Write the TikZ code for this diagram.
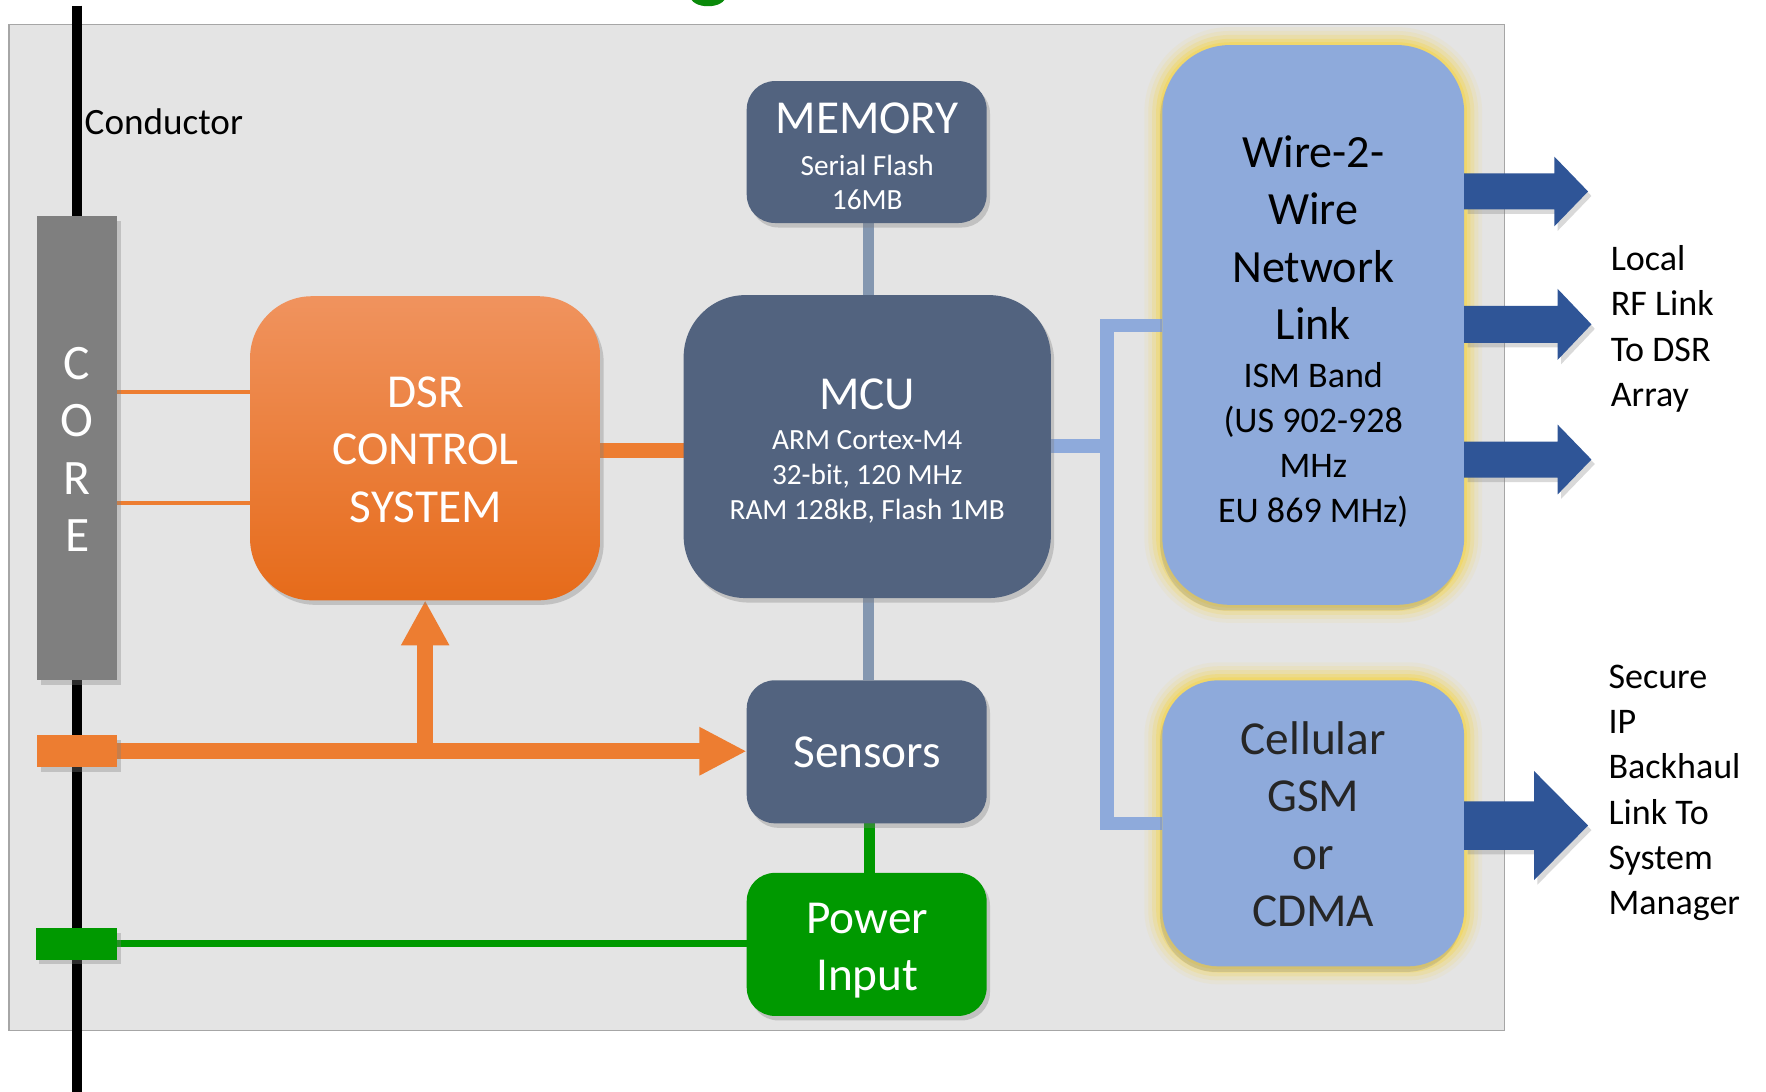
\documentclass[tikz,border=0pt]{standalone}
\usepackage{fontspec}
\setmainfont{Carlito}
\usetikzlibrary{shadows,arrows.meta,calc}

\definecolor{panelfill}{HTML}{E4E4E4}
\definecolor{panelline}{HTML}{A6A6A6}
\definecolor{coregray}{HTML}{7F7F7F}
\definecolor{dsrorange}{HTML}{ED7D31}
\definecolor{dsrtop}{HTML}{F0935E}
\definecolor{dsrbot}{HTML}{E66B1A}
\definecolor{slate}{HTML}{52637F}
\definecolor{linkgray}{HTML}{8497B0}
\definecolor{pwrgreen}{HTML}{009900}
\definecolor{netblue}{HTML}{8EAADB}
\definecolor{arrowblue}{HTML}{2F5597}
\definecolor{glowyellow}{HTML}{F2D660}
\definecolor{titlegreen}{HTML}{0A8A0A}
\definecolor{celltext}{HTML}{262626}

\newcommand\fsz[2]{\fontsize{#1}{#2}\selectfont}

% block arrow: start, tip, shaft half height, head half height, head length
\newcommand\blockarrow[5]{%
  \fill[arrowblue, drop shadow={shadow xshift=3pt, shadow yshift=-4pt, opacity=0.3}]
    let \p1=(#1), \p2=(#2) in
    (\x1,\y1+#3) -- (\x2-#5,\y1+#3) -- (\x2-#5,\y1+#4) -- (\x2,\y2)
    -- (\x2-#5,\y1-#4) -- (\x2-#5,\y1-#3) -- (\x1,\y1-#3) -- cycle;}

\pgfdeclarelayer{bg}
\pgfdeclarelayer{conn}
\pgfsetlayers{bg,conn,main}

\tikzset{
  box/.style={rectangle, inner sep=0pt, outer sep=0pt, draw=none},
  softshadow/.style={drop shadow={shadow xshift=3pt, shadow yshift=-4pt, opacity=0.35}},
  slatebox/.style={box, fill=slate, softshadow},
  netbox/.style={box, fill=netblue,
    drop shadow={shadow xshift=-2pt, shadow yshift=-5pt, opacity=0.25}},
  whitetext/.style={align=center, inner sep=0pt, text=white},
  bigfont/.style={font=\fsz{42}{51}},
  smallfont/.style={font=\fsz{26}{31}},
  sidefont/.style={font=\fsz{32}{40}},
  orangebus/.style={dsrorange, line width=14pt},
  netbus/.style={netblue, line width=12pt},
  linkbus/.style={linkgray, line width=10pt},
}

\begin{document}
\begin{tikzpicture}[x=1pt, y=-1pt]
\useasboundingbox (0,0) rectangle (1568,969);

% housing panel and the conductor passing through it
\begin{pgfonlayer}{bg}
  \node[box, fill=panelfill, draw=panelline, line width=1.2pt,
        minimum width=1328pt, minimum height=893pt] (panel) at (672,468.5) {};
  \coordinate (condtop) at (68,5);
  \coordinate (condbot) at (68,975);
  \draw[black, line width=9pt] (condtop) -- (condbot);
\end{pgfonlayer}

% fragment of green lettering above the panel
\fill[titlegreen] (613,-4) .. controls (613,9) and (645,9) .. (645,-4) -- cycle;

\node[anchor=west, inner sep=0pt, font=\fsz{33}{40}] (condlbl) at (75,108) {Conductor};

% core and taps on the conductor
\node[box, fill=coregray, softshadow, minimum width=71pt, minimum height=412pt] (core) at (68.5,398) {};
\node[whitetext, font=\fsz{44}{51}] (coretxt) at (68.5,399) {C\\O\\R\\E};
\node[box, fill=dsrorange, softshadow, minimum width=71pt, minimum height=28pt] (otap) at (68.5,667) {};
\node[box, fill=pwrgreen, softshadow, minimum width=72pt, minimum height=28pt] (gtap) at (68,838) {};

% control, processing and sensing blocks
\node[box, top color=dsrtop, bottom color=dsrbot, rounded corners=55pt, softshadow,
      minimum width=311pt, minimum height=270pt] (dsr) at (377.5,398) {};
\node[whitetext, bigfont] (dsrt) at (378,399) {DSR\\CONTROL\\SYSTEM};

\node[slatebox, rounded corners=55pt, minimum width=326pt, minimum height=269pt] (mcu) at (770,396.5) {};
\node[whitetext, bigfont] (mcut1) at (770,350) {MCU};
\node[whitetext, smallfont] (mcut2) at (770,423.5) {ARM Cortex-M4\\32-bit, 120 MHz\\RAM 128kB, Flash 1MB};

\node[slatebox, rounded corners=25pt, minimum width=213pt, minimum height=126pt] (mem) at (769.5,135) {};
\node[whitetext, bigfont] (memt1) at (770,105) {MEMORY};
\node[whitetext, font=\fsz{26}{30}] (memt2) at (770,162) {Serial Flash\\16MB};

\node[slatebox, rounded corners=25pt, minimum width=213pt, minimum height=127pt] (sens) at (769.5,667.5) {};
\node[whitetext, bigfont] (senst) at (770,668) {Sensors};

\node[box, fill=pwrgreen, softshadow, rounded corners=25pt, minimum width=213pt, minimum height=127pt] (pwr) at (769.5,838.5) {};
\node[whitetext, bigfont] (pwrt) at (770,844) {Power\\Input};

% communication blocks
\node[netbox, rounded corners=60pt, minimum width=268pt, minimum height=497pt] (w2w) at (1166,288.5) {};
\node[align=center, inner sep=0pt, font=\fsz{41}{51}] (w2wt1) at (1166,211) {Wire-2-\\Wire\\Network\\Link};
\node[align=center, inner sep=0pt, sidefont] (w2wt2) at (1166,395) {ISM Band\\(US 902-928\\MHz\\EU 869 MHz)};

\node[netbox, rounded corners=50pt, minimum width=268pt, minimum height=254pt] (cel) at (1166,731) {};
\node[align=center, inner sep=0pt, bigfont, text=celltext] (celt) at (1166,732) {Cellular\\GSM\\or\\CDMA};

% outside labels
\node[anchor=west, align=left, inner sep=0pt, sidefont] (rflbl) at (1430,292) {Local\\RF Link\\To DSR\\Array};
\node[anchor=west, align=left, inner sep=0pt, sidefont] (iplbl) at (1428,704) {Secure\\IP\\Backhaul\\Link To\\System\\Manager};

% soft yellow glow round the communication blocks
\begin{pgfonlayer}{bg}
  \foreach \lw/\op in {32/0.10, 25/0.16, 18/0.26, 11/0.42, 5/0.7} {
    \draw[glowyellow, line width=\lw pt, opacity=\op, rounded corners=60pt]
      (w2w.north west) rectangle (w2w.south east);
    \draw[glowyellow, line width=\lw pt, opacity=\op, rounded corners=50pt]
      (cel.north west) rectangle (cel.south east);
  }
\end{pgfonlayer}

% connectors
\begin{pgfonlayer}{conn}
  \draw[dsrorange, line width=3.5pt] (core.east |- 0,348) -- (dsr.west |- 0,348);
  \draw[dsrorange, line width=3.5pt] (core.east |- 0,447) -- (dsr.west |- 0,447);
  \draw[orangebus] (dsr.east |- 0,400) -- (mcu.west |- 0,400);

  \draw[linkbus] (mem.south -| 771,0) -- (mcu.north -| 771,0);
  \draw[linkbus] (mcu.south -| 771,0) -- (sens.north -| 771,0);
  \draw[pwrgreen, line width=10pt] (sens.south -| 772,0) -- (pwr.north -| 772,0);

  \draw[orangebus, -{Triangle[length=42pt, width=40pt]}] (otap.east) -- (sens.west |- otap.east);
  \coordinate (jn) at (dsr.south |- otap.east);
  \draw[orangebus, -{Triangle[length=40pt, width=40pt]}] (jn) -- (dsr.south);
  \draw[pwrgreen, line width=6pt] (gtap.east) -- (pwr.west |- gtap.east);

  \coordinate (bj) at (983,396);
  \coordinate (bt) at (983,289);
  \coordinate (bb) at (983,731);
  \draw[netbus] (mcu.east |- bj) -- (bj);
  \draw[netbus, line join=miter] (w2w.west |- bt) -- (bt) -- (bb) -- (cel.west |- bb);
\end{pgfonlayer}

% outgoing radio and backhaul links
\coordinate (tip1) at (1410,170);
\coordinate (tip2) at (1413,288);
\coordinate (tip3) at (1413,408);
\coordinate (tip4) at (1410,733);
\blockarrow{w2w.east |- tip1}{tip1}{16pt}{31pt}{30pt}
\blockarrow{w2w.east |- tip2}{tip2}{16.5pt}{31.5pt}{30pt}
\blockarrow{w2w.east |- tip3}{tip3}{16pt}{31pt}{30pt}
\blockarrow{cel.east |- tip4}{tip4}{21.5pt}{48.5pt}{48pt}

\end{tikzpicture}
\end{document}
